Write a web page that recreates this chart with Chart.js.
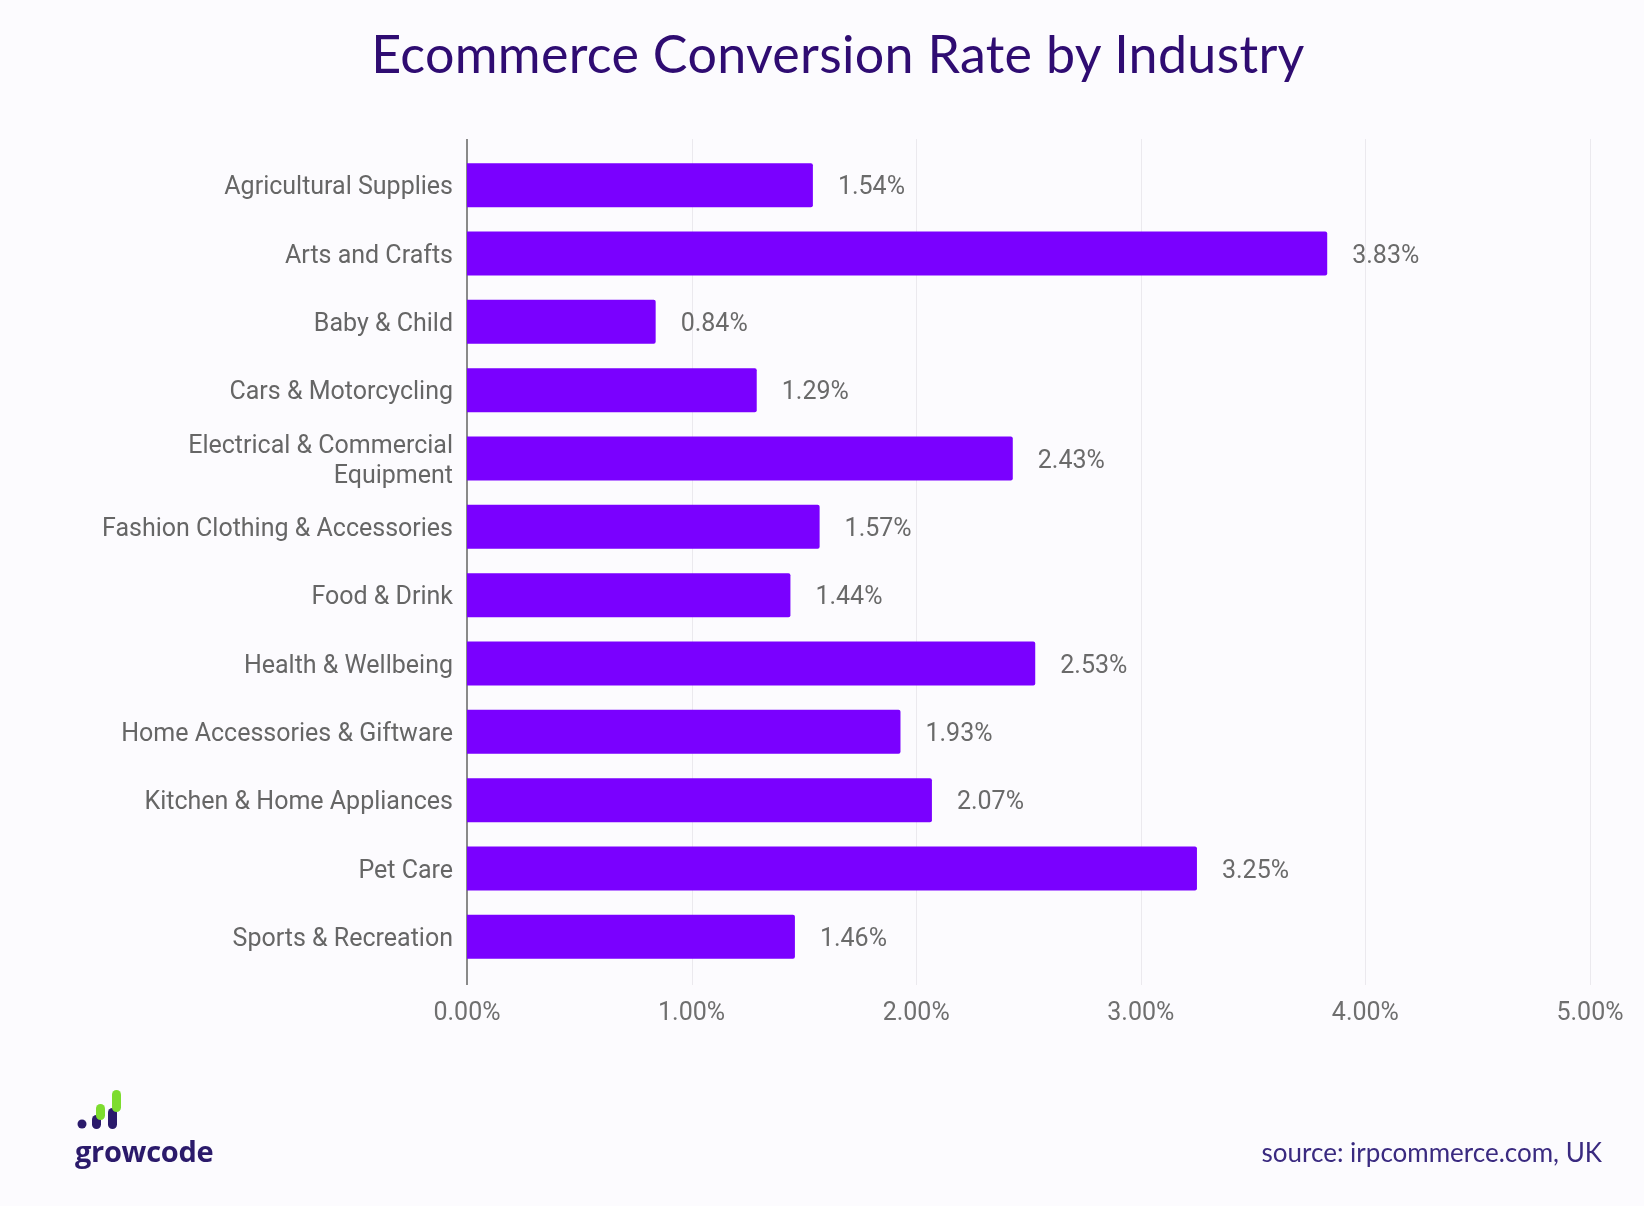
<!DOCTYPE html>
<html>
<head>
<meta charset="utf-8">
<script src="https://cdn.jsdelivr.net/npm/chart.js@4/dist/chart.umd.min.js"></script>
<style>
  html, body { margin: 0; padding: 0; background: #fcfbfe; }
  #wrap { position: relative; width: 1644px; height: 1206px; overflow: hidden; }
  #title {
    position: absolute; left: 0; top: 22px; width: 1676px; text-align: center;
    font-family: Lato, sans-serif; font-size: 52px; color: #2f0c72; letter-spacing: 0.3px;
  }
  #chartBox { position: absolute; left: 0; top: 0; width: 1644px; height: 1206px; }
  #logo { position: absolute; left: 74px; top: 1086px; }
  #logoText {
    position: absolute; left: 75px; top: 1131px;
    font-family: "Open Sans", sans-serif; font-weight: 700; font-size: 29px; color: #2b1a6b; letter-spacing: -0.3px;
  }
  #source {
    position: absolute; right: 42px; top: 1136px;
    font-family: Lato, sans-serif; font-size: 26px; color: #3a2a80;
  }
</style>
</head>
<body>
<div id="wrap">
  <div id="chartBox"><canvas id="convChart" width="1644" height="1206"></canvas></div>
  <div id="title">Ecommerce Conversion Rate by Industry</div>
  <svg id="logo" width="50" height="48" viewBox="0 0 50 48">
    <circle cx="8" cy="38" r="4.5" fill="#2b1a6b"/>
    <rect x="18" y="29" width="9" height="14" rx="4.5" fill="#2b1a6b"/>
    <rect x="22" y="18" width="9" height="16" rx="4.5" fill="#7ddc2e"/>
    <rect x="34" y="22" width="9" height="21" rx="4.5" fill="#2b1a6b"/>
    <rect x="38" y="4" width="9" height="22" rx="4.5" fill="#7ddc2e"/>
  </svg>
  <div id="logoText">growcode</div>
  <div id="source">source: irpcommerce.com, UK</div>
</div>
<script>
const industries = [
  'Agricultural Supplies',
  'Arts and Crafts',
  'Baby & Child',
  'Cars & Motorcycling',
  ['Electrical & Commercial', 'Equipment'],
  'Fashion Clothing & Accessories',
  'Food & Drink',
  'Health & Wellbeing',
  'Home Accessories & Giftware',
  'Kitchen & Home Appliances',
  'Pet Care',
  'Sports & Recreation'
];
const conversionRates = [1.54, 3.83, 0.84, 1.29, 2.43, 1.57, 1.44, 2.53, 1.93, 2.07, 3.25, 1.46];
const tickValues = [0, 1, 2, 3, 4, 5];

// gridlines + axis line, a bit taller than the plot area like the original
const tallGrid = {
  id: 'tallGrid',
  beforeDatasetsDraw(chart) {
    const ctx = chart.ctx;
    const xs = chart.scales.x;
    const top = chart.chartArea.top - 12;
    const bottom = chart.chartArea.bottom + 14;
    ctx.save();
    ctx.strokeStyle = '#ebe9ee';
    ctx.lineWidth = 1;
    tickValues.slice(1).forEach(v => {
      const x = Math.round(xs.getPixelForValue(v)) + 0.5;
      ctx.beginPath(); ctx.moveTo(x, top); ctx.lineTo(x, bottom); ctx.stroke();
    });
    ctx.strokeStyle = '#8a8a8a';
    ctx.lineWidth = 2;
    const x0 = xs.getPixelForValue(0);
    ctx.beginPath(); ctx.moveTo(x0, top); ctx.lineTo(x0, bottom); ctx.stroke();
    ctx.restore();
  }
};

// value labels next to each bar
const valueLabels = {
  id: 'valueLabels',
  afterDatasetsDraw(chart) {
    const ctx = chart.ctx;
    const meta = chart.getDatasetMeta(0);
    ctx.save();
    ctx.font = '25px Roboto';
    ctx.fillStyle = '#6a6a6a';
    ctx.textBaseline = 'middle';
    meta.data.forEach((bar, i) => {
      ctx.fillText(conversionRates[i].toFixed(2) + '%', bar.x + 25, bar.y + 3);
    });
    ctx.restore();
  }
};

const ctx = document.getElementById('convChart').getContext('2d');
new Chart(ctx, {
  type: 'bar',
  data: {
    labels: industries,
    datasets: [{
      data: conversionRates,
      backgroundColor: '#7a00ff',
      borderRadius: 2,
      borderSkipped: 'start',
      barPercentage: 0.645,
      categoryPercentage: 1
    }]
  },
  plugins: [tallGrid, valueLabels],
  options: {
    indexAxis: 'y',
    responsive: false,
    animation: false,
    layout: { padding: { top: 151, right: 54, bottom: 175, left: 0 } },
    plugins: { legend: { display: false }, tooltip: { enabled: false } },
    scales: {
      x: {
        min: 0,
        max: 5,
        afterBuildTicks(axis) { axis.ticks = tickValues.map(v => ({ value: v })); },
        afterFit(axis) { axis.height = 60; },
        grid: { display: false },
        border: { display: false },
        ticks: {
          padding: 20,
          color: '#6f6f6f',
          font: { family: 'Roboto', size: 25 },
          callback: v => v.toFixed(2) + '%'
        }
      },
      y: {
        afterFit(axis) { axis.width = 467; },
        grid: { display: false, drawTicks: false },
        border: { display: false },
        ticks: {
          padding: 14,
          labelOffset: 3,
          color: '#666666',
          font: { family: 'Roboto', size: 25, lineHeight: 1.2 }
        }
      }
    }
  }
});
</script>
</body>
</html>
